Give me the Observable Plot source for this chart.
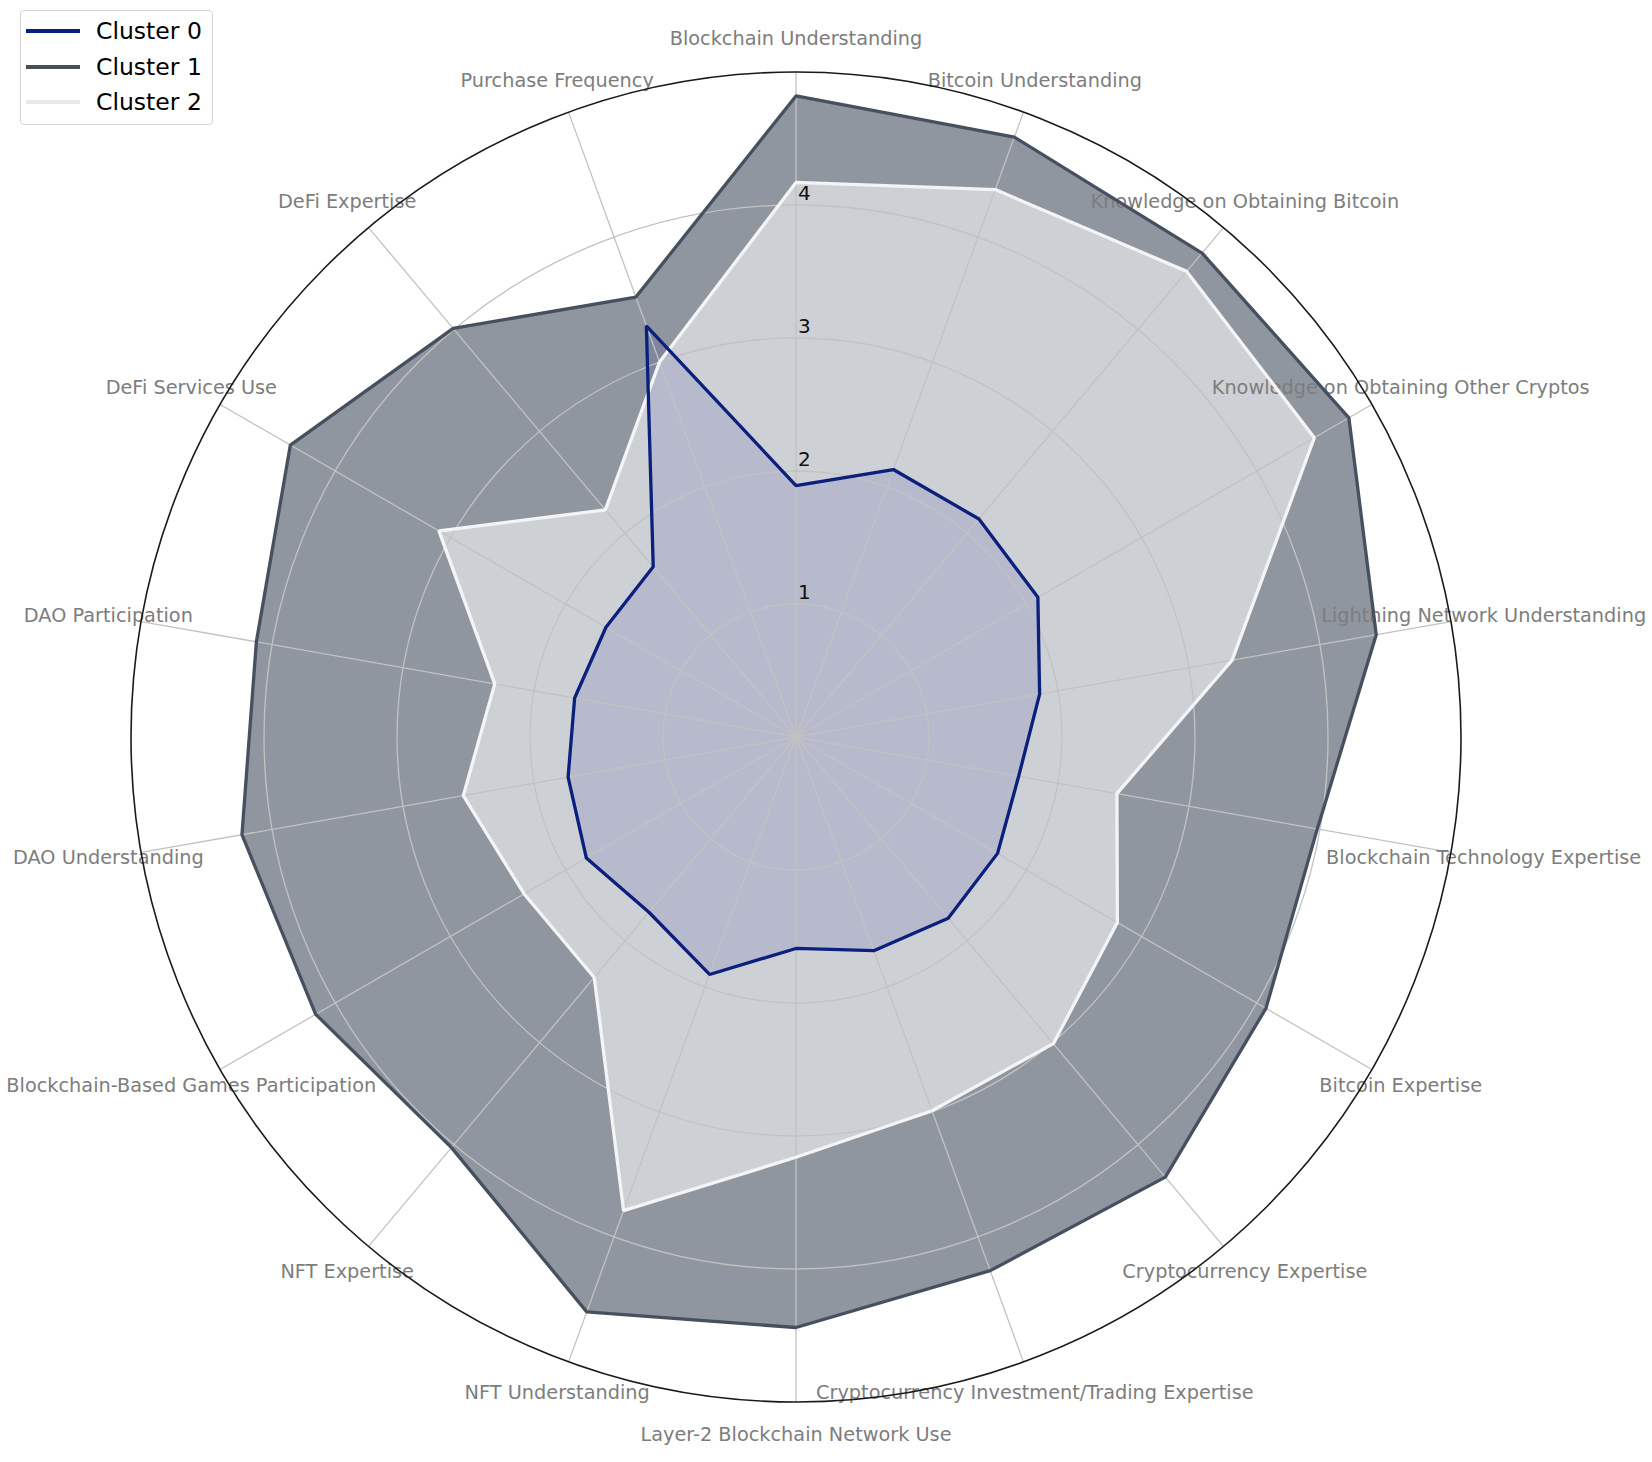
<!DOCTYPE html>
<html>
<head>
<meta charset="utf-8">
<script src="https://cdn.jsdelivr.net/npm/d3@7"></script>
<script src="https://cdn.jsdelivr.net/npm/@observablehq/plot@0.6"></script>
<style>
  html, body { margin: 0; padding: 0; background: #fff; }
  #wrap { position: relative; width: 1652px; height: 1462px; }
  #legend { position: absolute; left: 20px; top: 10px; width: 191px; height: 113px;
    border: 1px solid #d4d4d4; border-radius: 4px; background: rgba(255,255,255,0.85);
    font-family: "DejaVu Sans", sans-serif; font-size: 23.5px; color: #000; }
  .row { position: absolute; left: 5px; height: 30px; display: flex; align-items: center; }
  .sw { width: 54px; height: 0; border-top: 4px solid; margin-right: 16px; }
</style>
</head>
<body>
<div id="wrap"><div id="chart"></div><div id="legend"></div></div>
<script>
// ---- data ----
const categories = [
  "Blockchain Understanding",
  "Bitcoin Understanding",
  "Knowledge on Obtaining Bitcoin",
  "Knowledge on Obtaining Other Cryptos",
  "Lightning Network Understanding",
  "Blockchain Technology Expertise",
  "Bitcoin Expertise",
  "Cryptocurrency Expertise",
  "Cryptocurrency Investment/Trading Expertise",
  "Layer-2 Blockchain Network Use",
  "NFT Understanding",
  "NFT Expertise",
  "Blockchain-Based Games Participation",
  "DAO Understanding",
  "DAO Participation",
  "DeFi Services Use",
  "DeFi Expertise",
  "Purchase Frequency"
];
const cluster0 = [1.89, 2.14, 2.14, 2.10, 1.86, 1.70, 1.75, 1.78, 1.71, 1.59, 1.90, 1.72, 1.82, 1.74, 1.69, 1.65, 1.67, 3.29];
const cluster1 = [4.82, 4.80, 4.75, 4.80, 4.43, 3.98, 4.08, 4.32, 4.27, 4.44, 4.60, 4.03, 4.17, 4.23, 4.12, 4.39, 4.01, 3.52];
const cluster2 = [4.17, 4.38, 4.57, 4.50, 3.33, 2.45, 2.79, 3.01, 2.99, 3.16, 3.79, 2.36, 2.36, 2.54, 2.30, 3.10, 2.23, 3.00];
const clusterNames = ["Cluster 0", "Cluster 1", "Cluster 2"];
const ringTicks = [1, 2, 3, 4];
const rMax = 5;

// ---- styles / layout ----
const W = 1652, H = 1462;
const CX = 795.5, CY = 736.5, UNIT = 133;
const lineColors = ["#0b1f7d", "#46505f", "#f4f4f6"];
const fillColors = ["#142396", "#46505f", "#f6f6f8"];
const fillOpacity = [0.12, 0.6, 0.6];
const FONT = "DejaVu Sans";

const n = categories.length;
const ang = i => (i * 2 * Math.PI) / n;
const series = [cluster0, cluster1, cluster2];
const rows = series.map((vals, c) =>
  vals.map((v, i) => ({cluster: clusterNames[c], category: categories[i], idx: i, value: v}))
);
const px = d => d.value * Math.sin(ang(d.idx));
const py = d => d.value * Math.cos(ang(d.idx));

const fillMark = c => Plot.line(rows[c], {
  x: px, y: py, curve: "linear-closed",
  fill: fillColors[c], fillOpacity: fillOpacity[c], stroke: "none"
});
const strokeMark = c => Plot.line(rows[c], {
  x: px, y: py, curve: "linear-closed",
  stroke: lineColors[c], strokeWidth: 3.3, fill: "none", strokeLinejoin: "miter"
});

const labelR = 5.25;

const chart = Plot.plot({
  width: W, height: H,
  margin: 0,
  x: {domain: [-CX / UNIT, (W - CX) / UNIT], range: [0, W], axis: null},
  y: {domain: [-(H - CY) / UNIT, CY / UNIT], range: [H, 0], axis: null},
  r: {type: "linear", domain: [0, rMax], range: [0, rMax * UNIT]},
  style: {fontFamily: FONT, background: "white"},
  marks: [
    fillMark(1),
    fillMark(2),
    fillMark(0),
    // rings
    Plot.dot(ringTicks, {x: () => 0, y: () => 0, r: d => d, fill: "none", stroke: "#c2c2c2", strokeWidth: 1.3}),
    // spokes
    Plot.link(categories, {
      x1: () => 0, y1: () => 0,
      x2: (d, i) => rMax * Math.sin(ang(i)), y2: (d, i) => rMax * Math.cos(ang(i)),
      stroke: "#c2c2c2", strokeWidth: 1.3
    }),
    // category labels
    Plot.text(categories, {
      x: (d, i) => labelR * Math.sin(ang(i)), y: (d, i) => labelR * Math.cos(ang(i)),
      text: d => d, fontSize: 19.3, fill: "#7d7d7d", textAnchor: "middle", lineAnchor: "middle"
    }),
    strokeMark(1),
    strokeMark(2),
    strokeMark(0),
    // outer spine
    Plot.dot([rMax], {x: () => 0, y: () => 0, r: d => d, fill: "none", stroke: "#1a1a1a", strokeWidth: 1.6}),
    // radial tick labels
    Plot.text(ringTicks, {
      x: () => 0, y: d => d, text: d => String(d), textAnchor: "start", lineAnchor: "bottom",
      dx: 2, dy: -5, fontSize: 20, fill: "#111"
    })
  ]
});
document.getElementById("chart").appendChild(chart);

// legend
const legend = document.getElementById("legend");
const rowTops = [5, 41, 76];
clusterNames.forEach((name, c) => {
  const row = document.createElement("div");
  row.className = "row";
  row.style.top = rowTops[c] + "px";
  const sw = document.createElement("span");
  sw.className = "sw";
  sw.style.borderTopColor = c === 2 ? "#e8e8ec" : lineColors[c];
  const t = document.createElement("span");
  t.textContent = name;
  row.appendChild(sw); row.appendChild(t);
  legend.appendChild(row);
});
</script>
</body>
</html>
